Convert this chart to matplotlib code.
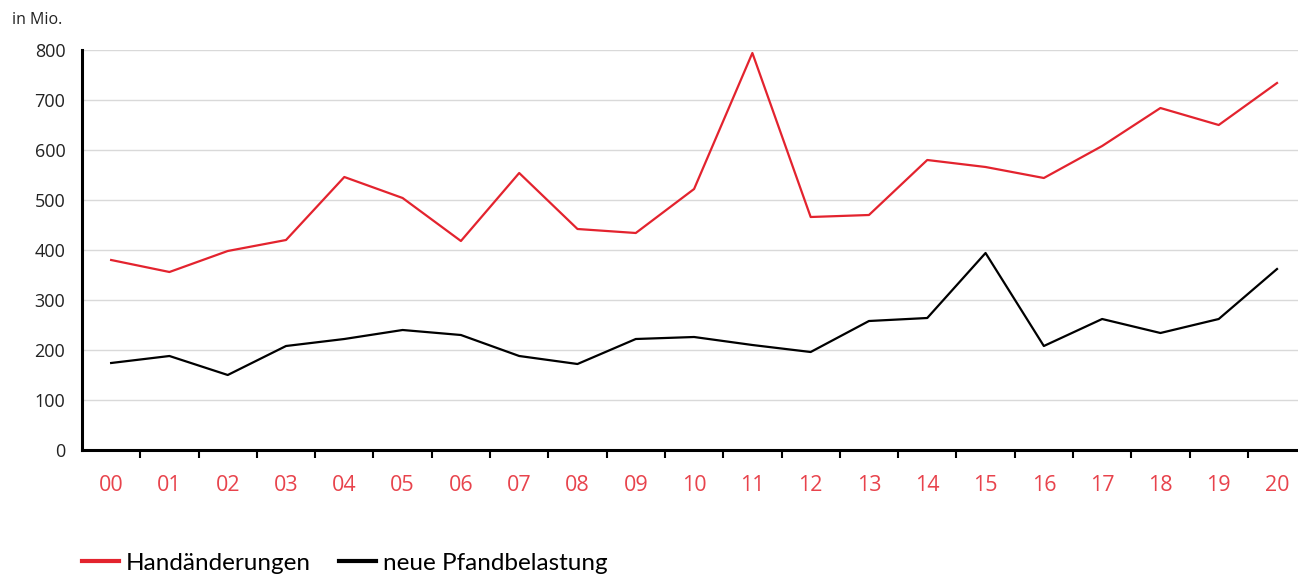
import matplotlib.pyplot as plt
import numpy as np

# Data
jahre = ["00", "01", "02", "03", "04", "05", "06", "07", "08", "09", "10",
         "11", "12", "13", "14", "15", "16", "17", "18", "19", "20"]
handaenderungen = [380, 356, 398, 420, 546, 504, 418, 554, 442, 434, 522,
                   794, 466, 470, 580, 566, 544, 608, 684, 650, 734]
pfandbelastung = [174, 188, 150, 208, 222, 240, 230, 188, 172, 222, 226,
                  210, 196, 258, 264, 394, 208, 262, 234, 262, 362]

red = "#e3232e"
tick_red = "#e8434c"

fig = plt.figure(figsize=(12.98, 5.75), dpi=100)
ax = fig.add_axes([82 / 1298, 125 / 575, 1216 / 1298, 400 / 575])

x = np.arange(len(jahre))
ax.plot(x, handaenderungen, color=red, lw=1.6, label="Handänderungen")
ax.plot(x, pfandbelastung, color="black", lw=1.6, label="neue Pfandbelastung")

ax.set_xlim(-0.5, 20.36)
ax.set_ylim(0, 800)

# y axis
ax.set_yticks(range(0, 801, 100))
ax.tick_params(axis="y", length=0, pad=12, labelsize=13, labelcolor="#222222")
for lbl in ax.get_yticklabels():
    lbl.set_fontfamily("Open Sans")
ax.grid(axis="y", color="#d9d9d9", lw=1)
ax.set_axisbelow(True)

# x axis: labels centred, ticks between categories
ax.set_xticks(x)
ax.set_xticklabels(jahre, family="Open Sans", fontsize=15.5, color=tick_red)
ax.tick_params(axis="x", which="major", length=0, pad=18)
ax.set_xticks(np.arange(0.5, 20, 1), minor=True)
ax.tick_params(axis="x", which="minor", length=6, width=1.5, color="black")

for s in ["top", "right"]:
    ax.spines[s].set_visible(False)
ax.spines["left"].set_linewidth(2.2)
ax.spines["bottom"].set_linewidth(2.2)

fig.text(12 / 1298, 1 - 20 / 575, "in Mio.", family="Open Sans", fontsize=11.5,
         color="#222222", va="center", ha="left")

leg = fig.legend(loc="lower left", bbox_to_anchor=(82 / 1298, 1 / 575), ncol=2,
                 frameon=False, prop={"family": "Lato", "size": 17.5},
                 handlelength=1.52, handletextpad=0.29, columnspacing=1.15,
                 borderpad=0, borderaxespad=0)
for h in leg.get_lines():
    h.set_linewidth(3)

fig.savefig("out.png", dpi=100)
